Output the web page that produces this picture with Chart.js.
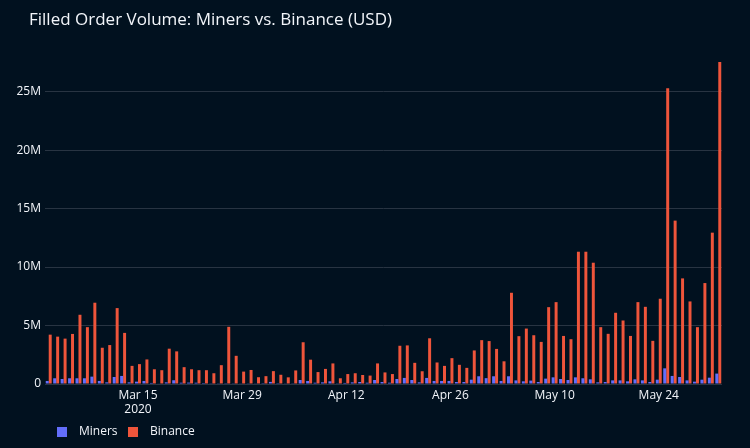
<!DOCTYPE html>
<html>
<head>
<meta charset="utf-8">
<script src="https://cdn.jsdelivr.net/npm/chart.js@4.4.1/dist/chart.umd.min.js"></script>
<style>
  html, body { margin: 0; padding: 0; background: #01111f; }
  #wrap { width: 750px; height: 448px; position: relative; }
</style>
</head>
<body>
<div id="wrap"><canvas id="volChart" width="750" height="448"></canvas></div>
<script>
// --- data (USD, millions) ---
const startDate = '2020-03-03';
const miners = [
  0.26, 0.49, 0.43, 0.49, 0.49, 0.49, 0.63, 0.26, 0.14, 0.60,
  0.69, 0.14, 0.20, 0.26, 0.09, 0.05, 0.14, 0.32, 0.11, 0.12,
  0.11, 0.08, 0.06, 0.06, 0.02, 0.06, 0.03, 0.06, 0.03, 0.07,
  0.18, 0.07, 0.03, 0.06, 0.34, 0.26, 0.11, 0.14, 0.23, 0.06,
  0.09, 0.14, 0.17, 0.11, 0.34, 0.17, 0.11, 0.43, 0.52, 0.34,
  0.14, 0.52, 0.26, 0.26, 0.26, 0.17, 0.17, 0.37, 0.66, 0.50,
  0.66, 0.26, 0.66, 0.31, 0.23, 0.29, 0.17, 0.46, 0.57, 0.43,
  0.34, 0.57, 0.49, 0.40, 0.14, 0.17, 0.31, 0.31, 0.23, 0.40,
  0.31, 0.17, 0.37, 1.34, 0.69, 0.60, 0.31, 0.20, 0.37, 0.54,
  0.89
];
const binance = [
  4.22, 4.05, 3.88, 4.28, 5.92, 4.86, 6.95, 3.10, 3.33, 6.49,
  4.37, 1.55, 1.70, 2.10, 1.26, 1.18, 3.02, 2.79, 1.44, 1.26,
  1.18, 1.18, 0.92, 1.61, 4.89, 2.41, 1.06, 1.20, 0.58, 0.67,
  1.10, 0.79, 0.57, 1.16, 3.57, 2.08, 1.02, 1.29, 1.76, 0.49,
  0.85, 0.92, 0.77, 0.72, 1.76, 0.99, 0.85, 3.27, 3.30, 1.81,
  1.09, 3.91, 1.84, 1.55, 2.21, 1.64, 1.38, 2.87, 3.75, 3.67,
  3.00, 1.94, 7.80, 4.09, 4.74, 4.17, 3.60, 6.57, 7.00, 4.11,
  3.83, 11.31, 11.31, 10.37, 4.86, 4.29, 6.09, 5.43, 4.11, 7.00,
  6.60, 3.69, 7.29, 25.29, 13.97, 9.03, 7.06, 4.86, 8.63, 12.94,
  27.54
];
const tickDates = ['2020-03-15', '2020-03-29', '2020-04-12', '2020-04-26', '2020-05-10', '2020-05-24'];
const tickLabels = [['Mar 15', '2020'], 'Mar 29', 'Apr 12', 'Apr 26', 'May 10', 'May 24'];
const yTicks = [0, 5, 10, 15, 20, 25];

// одна дата на кожен день
const dates = [];
const d0 = new Date(startDate + 'T00:00:00Z');
for (let i = 0; i < binance.length; i++) {
  const d = new Date(d0.getTime() + i * 86400000);
  dates.push(d.toISOString().slice(0, 10));
}

const FONT = '"Open Sans", "Noto Sans", sans-serif';
const TEXT = '#f2f5fa';
const GRID = '#283442';

// заголовок і легенда малюються вручну, щоб збігались позиції
const decorPlugin = {
  id: 'decor',
  afterDraw(chart) {
    const ctx = chart.ctx;
    ctx.save();
    ctx.fillStyle = TEXT;
    ctx.font = '17px ' + FONT;
    ctx.textBaseline = 'middle';
    ctx.fillText('Filled Order Volume: Miners vs. Binance (USD)', 29, 20);

    ctx.font = '12px ' + FONT;
    let x = 57;
    chart.data.datasets.forEach(ds => {
      ctx.fillStyle = ds.backgroundColor;
      ctx.fillRect(x, 427, 10, 10);
      ctx.fillStyle = TEXT;
      ctx.fillText(ds.label, x + 22, 432);
      x += 71;
    });
    ctx.restore();
  }
};

new Chart(document.getElementById('volChart'), {
  type: 'bar',
  data: {
    labels: dates,
    datasets: [
      { label: 'Miners', data: miners, backgroundColor: '#636efa' },
      { label: 'Binance', data: binance, backgroundColor: '#ef553b' }
    ]
  },
  options: {
    responsive: false,
    animation: false,
    devicePixelRatio: 1,
    layout: { padding: { top: 46, right: 28, bottom: 24, left: 0 } },
    datasets: { bar: { categoryPercentage: 0.8, barPercentage: 1.0 } },
    plugins: {
      legend: { display: false },
      title: { display: false },
      tooltip: { enabled: false }
    },
    scales: {
      x: {
        grid: { display: false, drawTicks: false },
        border: { display: false },
        afterFit(scale) { scale.height = 40; },
        ticks: {
          autoSkip: false,
          maxRotation: 0,
          padding: 4,
          color: TEXT,
          font: { family: FONT, size: 12 },
          callback(value, index) {
            const k = tickDates.indexOf(dates[index]);
            return k >= 0 ? tickLabels[k] : '';
          }
        }
      },
      y: {
        min: 0,
        max: 28.9,
        afterBuildTicks(scale) {
          scale.ticks = yTicks.map(v => ({ value: v }));
        },
        afterFit(scale) { scale.width = 45; },
        grid: { color: GRID, lineWidth: 1, drawTicks: false },
        border: { display: false },
        ticks: {
          padding: 4,
          color: TEXT,
          font: { family: FONT, size: 12 },
          callback(value) { return value === 0 ? '0' : value + 'M'; }
        }
      }
    }
  },
  plugins: [decorPlugin]
});
</script>
</body>
</html>
